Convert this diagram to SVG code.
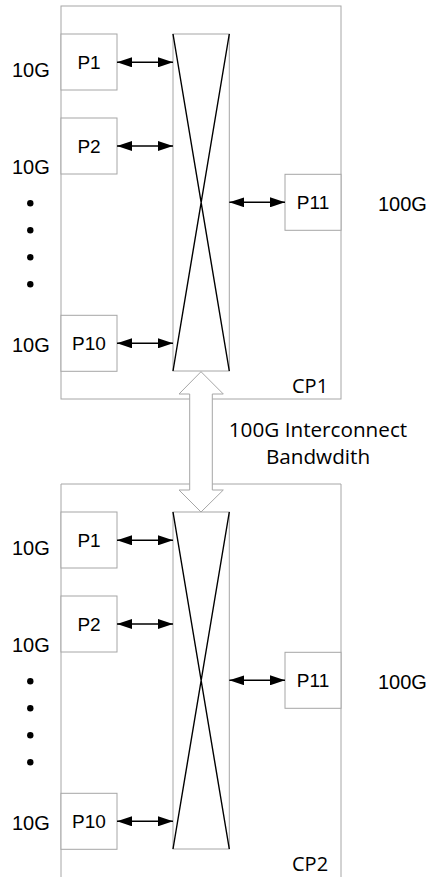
<svg xmlns="http://www.w3.org/2000/svg" width="427" height="877" viewBox="0 0 427 877">
  <style>
    .frame { fill: none; stroke: #a6a6a6; stroke-width: 1; }
    .port { fill: #ffffff; stroke: #a6a6a6; stroke-width: 1; }
    .xbar { fill: #ffffff; stroke: #a6a6a6; stroke-width: 1; }
    .cross { fill: none; stroke: #000000; stroke-width: 1.4; }
    .link { fill: none; stroke: #000000; stroke-width: 1.6; marker-start: url(#head); marker-end: url(#head); }
    .pl { font-family: "Liberation Sans", Arial, sans-serif; font-size: 19px; fill: #000; text-anchor: middle; }
    .rate { font-family: "Liberation Sans", Arial, sans-serif; font-size: 20px; fill: #000; }
    .cap { font-family: "Open Sans", "Noto Sans", sans-serif; font-size: 20px; fill: #000; }
    .wide { font-size: 20.7px; }
    .dot { fill: #000; }
    .big { fill: #ffffff; stroke: #a6a6a6; stroke-width: 1; }
  </style>
  <defs>
    <marker id="head" viewBox="0 0 15 10" refX="15" refY="5" markerWidth="15" markerHeight="10" markerUnits="userSpaceOnUse" orient="auto-start-reverse">
      <path d="M0,0 L15,5 L0,10 Z" fill="#000"/>
    </marker>
    <!-- one switch chassis; the second is the same drawing shifted down -->
    <g id="chassis">
      <rect class="xbar" x="173" y="34" width="56.3" height="337"/>
      <path class="cross" d="M173,34 L229.3,371 M229.3,34 L173,371"/>
      <rect class="port" x="61" y="34" width="56" height="56"/>
      <rect class="port" x="61" y="118" width="56" height="56"/>
      <rect class="port" x="61" y="315.3" width="56" height="56"/>
      <rect class="port" x="285" y="174.3" width="56" height="56"/>
      <text class="pl" x="89" y="69">P1</text>
      <text class="pl" x="89" y="153">P2</text>
      <text class="pl" x="89" y="350.3">P10</text>
      <text class="pl" x="313" y="209.3">P11</text>
      <text class="rate" x="12" y="77.3">10G</text>
      <text class="rate" x="12" y="174.3">10G</text>
      <text class="rate" x="12" y="351.5">10G</text>
      <text class="rate" x="378" y="210.5">100G</text>
      <circle class="dot" cx="30.3" cy="203.3" r="3.2"/>
      <circle class="dot" cx="30.3" cy="230.3" r="3.2"/>
      <circle class="dot" cx="30.3" cy="257.3" r="3.2"/>
      <circle class="dot" cx="30.3" cy="284.3" r="3.2"/>
    </g>
  </defs>

  <!-- CP1 -->
  <g id="cp1">
    <rect class="frame" x="61" y="6" width="280" height="393"/>
    <use href="#chassis"/>
    <text class="cap" x="292" y="393">CP1</text>
  </g>

  <!-- CP2, cut off at the bottom edge -->
  <g id="cp2">
    <path class="frame" d="M61,878 V484 H341 V878"/>
    <use href="#chassis" transform="translate(0,478)"/>
    <text class="cap" x="292" y="871">CP2</text>
  </g>

  <!-- port links -->
  <g id="connectors">
    <line class="link" x1="117" y1="62.3" x2="173" y2="62.3"/>
    <line class="link" x1="117" y1="146" x2="173" y2="146"/>
    <line class="link" x1="117" y1="343.3" x2="173" y2="343.3"/>
    <line class="link" x1="229.3" y1="202.3" x2="285" y2="202.3"/>
    <line class="link" x1="117" y1="540.3" x2="173" y2="540.3"/>
    <line class="link" x1="117" y1="624" x2="173" y2="624"/>
    <line class="link" x1="117" y1="821.3" x2="173" y2="821.3"/>
    <line class="link" x1="229.3" y1="680.3" x2="285" y2="680.3"/>
    <!-- interconnect between the two crossbars -->
    <polygon id="interconnect" class="big" points="201,371.7 223.3,394 212.3,394 212.3,490 223.3,490 201,512 179,490 189.7,490 189.7,394 179,394"/>
  </g>

  <g id="interconnect-label">
    <text class="cap wide" x="318" y="436.7" text-anchor="middle">100G Interconnect</text>
    <text class="cap wide" x="318" y="464.3" text-anchor="middle">Bandwdith</text>
  </g>
</svg>
